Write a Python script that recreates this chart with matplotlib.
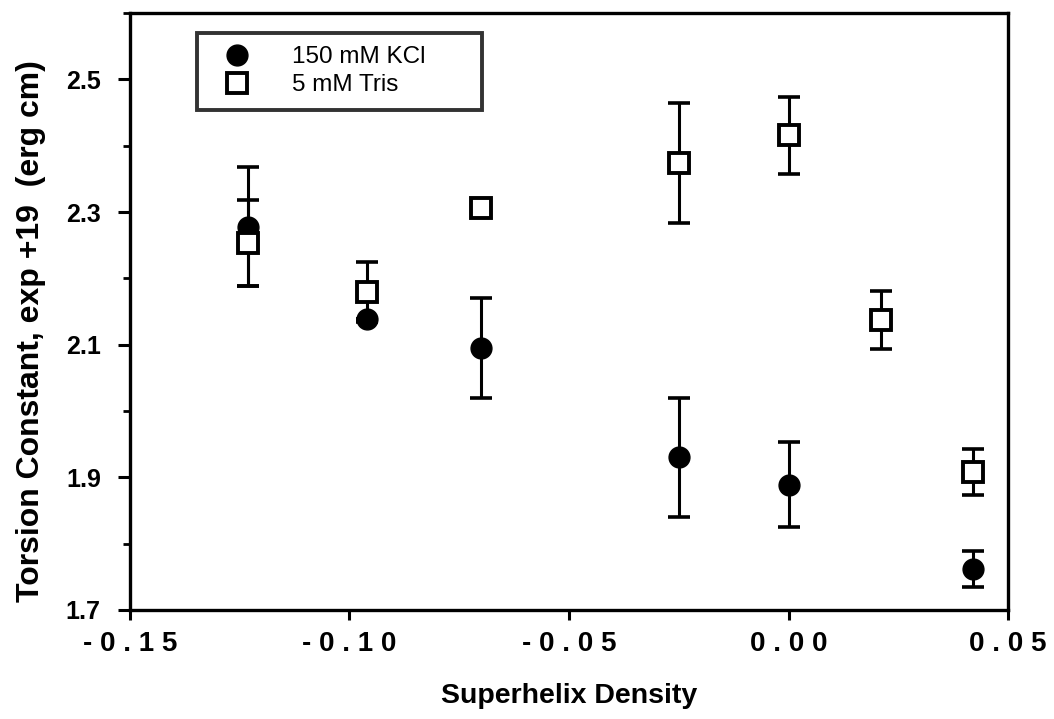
import matplotlib
matplotlib.use('Agg')
import matplotlib.pyplot as plt
from matplotlib.ticker import MultipleLocator

plt.rcParams['font.family'] = ['Liberation Sans', 'DejaVu Sans']

# 150 mM KCl (filled circles)
kcl_x = [-0.123, -0.096, -0.070, -0.025, 0.000, 0.042]
kcl_y = [2.278, 2.139, 2.095, 1.930, 1.889, 1.762]
kcl_err = [0.090, 0.000, 0.076, 0.090, 0.064, 0.027]

# 5 mM Tris (open squares)
tris_x = [-0.123, -0.096, -0.070, -0.025, 0.000, 0.021, 0.042]
tris_y = [2.253, 2.179, 2.306, 2.374, 2.416, 2.137, 1.908]
tris_err = [0.065, 0.045, 0.000, 0.091, 0.058, 0.044, 0.034]

xticks = [-0.15, -0.10, -0.05, 0.00, 0.05]
xtick_labels = ['-0.15', '-0.10', '-0.05', '0.00', '0.05']
yticks = [1.7, 1.9, 2.1, 2.3, 2.5]

fig = plt.figure(figsize=(10.54, 7.19), dpi=100)
ax = fig.add_axes([0.1233, 0.1516, 0.8331, 0.8303])

eb = dict(fmt='none', ecolor='black', elinewidth=2.2, capsize=8, capthick=2.6, zorder=2)
ax.errorbar(kcl_x, kcl_y, yerr=kcl_err, **eb)
ax.errorbar(tris_x, tris_y, yerr=tris_err, **eb)
ax.plot(kcl_x, kcl_y, 'o', ms=15, mfc='black', mec='black', zorder=3,
        label='150 mM KCl')
ax.plot(tris_x, tris_y, 's', ms=14, mfc='white', mec='black', mew=2.8, zorder=4,
        label='5 mM Tris')

ax.set_xlim(-0.15, 0.05)
ax.set_ylim(1.7, 2.6)
ax.set_xticks(xticks)
ax.set_xticklabels([' '.join(s) for s in xtick_labels], fontsize=20,
                   fontweight='bold')
ax.set_yticks(yticks)
ax.set_yticklabels(['%.1f' % v for v in yticks], fontsize=18, fontweight='bold')
ax.yaxis.set_minor_locator(MultipleLocator(0.1))

ax.tick_params(axis='both', which='major', direction='out', width=2.2, color='black')
ax.tick_params(axis='x', which='major', length=7, pad=8)
ax.tick_params(axis='y', which='major', length=9, pad=12)
ax.tick_params(axis='y', which='minor', direction='out', length=5, width=2)
ax.tick_params(top=False, right=False)

for s in ax.spines.values():
    s.set_linewidth(2.4)
    s.set_color('black')

ax.set_xlabel('Superhelix Density', fontsize=20.5, fontweight='bold')
ax.xaxis.set_label_coords(0.5, -0.122)
ax.set_ylabel('Torsion Constant, exp +19  (erg cm)', fontsize=23, fontweight='bold')
ax.yaxis.set_label_coords(-0.096, 0.467)

# legend box spans roughly x 197..482 px, y 33..107 px
leg = ax.legend(loc='upper left', bbox_to_anchor=(0.0763, 0.9665, 0.3246, 0.0),
                mode='expand', fontsize=17.5, frameon=True, fancybox=False,
                handletextpad=1.15, borderpad=0.55, labelspacing=0.25,
                markerscale=1.0, handlelength=2.2, borderaxespad=0)
leg.get_frame().set_edgecolor('black')
leg.get_frame().set_linewidth(2.8)

fig.savefig('out.png', dpi=100)
